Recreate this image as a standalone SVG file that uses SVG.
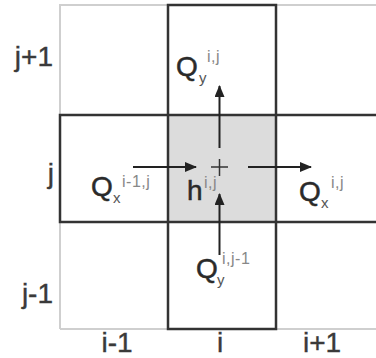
<svg xmlns="http://www.w3.org/2000/svg" width="376" height="358" viewBox="0 0 376 358">
<style>
.lab{font-family:"Liberation Sans",Arial,sans-serif;font-size:28px;fill:#3a3a3a;stroke:#3a3a3a;stroke-width:0.4}
.q{font-family:"Liberation Sans",Arial,sans-serif;font-size:28px;fill:#2a2a2a;stroke:#2a2a2a;stroke-width:0.5}
.sub{font-family:"Liberation Sans",Arial,sans-serif;font-size:15px;fill:#555}
.sup{font-family:"Liberation Sans",Arial,sans-serif;font-size:16px;letter-spacing:0.5px;fill:#888}
.light{fill:none;stroke:#cfcfcf;stroke-width:2}
.dark{fill:none;stroke:#333;stroke-width:2.5}
.arr{stroke:#222;stroke-width:2;fill:none;marker-end:url(#ah)}
</style>
<defs>
<marker id="ah" viewBox="0 0 12 10" refX="11" refY="5" markerWidth="12" markerHeight="10" markerUnits="userSpaceOnUse" orient="auto">
<path d="M0,0 L12,5 L0,10 z" fill="#222"/>
</marker>
</defs>
<rect width="376" height="358" fill="#fff"/>
<g id="grid">
<path class="light" d="M60,329 V5 H376 M60,329 H376"/>
</g>
<g id="cell-ij">
<rect x="168" y="115" width="108" height="107" fill="#dcdcdc"/>
<path d="M211,167 H228 M219.5,159 V176" stroke="#333" stroke-width="1.5"/>
<text class="q" x="187" y="200">h</text><text class="sup" x="204" y="188">i,j</text>
</g>
<g id="row-j">
<path class="dark" d="M378,115 H60 V222 H378"/>
</g>
<g id="column-i">
<rect class="dark" x="168" y="5" width="108" height="324"/>
</g>
<g id="connectors">
<line class="arr" x1="133" y1="167" x2="196" y2="167"/>
<line class="arr" x1="248" y1="167" x2="311" y2="167"/>
<line class="arr" x1="219.5" y1="148" x2="219.5" y2="86"/>
<line class="arr" x1="219.5" y1="255" x2="219.5" y2="194"/>
</g>
<g id="labels">
<text class="lab" x="53" y="66" text-anchor="end">j+1</text>
<text class="lab" x="54" y="183" text-anchor="end">j</text>
<text class="lab" x="53" y="303" text-anchor="end">j-1</text>
<text class="lab" x="117" y="352" text-anchor="middle">i-1</text>
<text class="lab" x="220" y="352" text-anchor="middle">i</text>
<text class="lab" x="322" y="352" text-anchor="middle">i+1</text>
</g>
<g id="Qx-left">
<text class="q" x="91" y="196">Q</text><text class="sub" x="113" y="203">x</text><text class="sup" x="122" y="187">i-1,j</text>
</g>
<g id="Qx-right">
<text class="q" x="299" y="201">Q</text><text class="sub" x="321" y="208">x</text><text class="sup" x="331" y="188">i,j</text>
</g>
<g id="Qy-top">
<text class="q" x="176" y="76">Q</text><text class="sub" x="199" y="83">y</text><text class="sup" x="207" y="62">i,j</text>
</g>
<g id="Qy-bottom">
<text class="q" x="196" y="278">Q</text><text class="sub" x="217" y="285">y</text><text class="sup" x="222" y="264">i,j-1</text>
</g>
</svg>
